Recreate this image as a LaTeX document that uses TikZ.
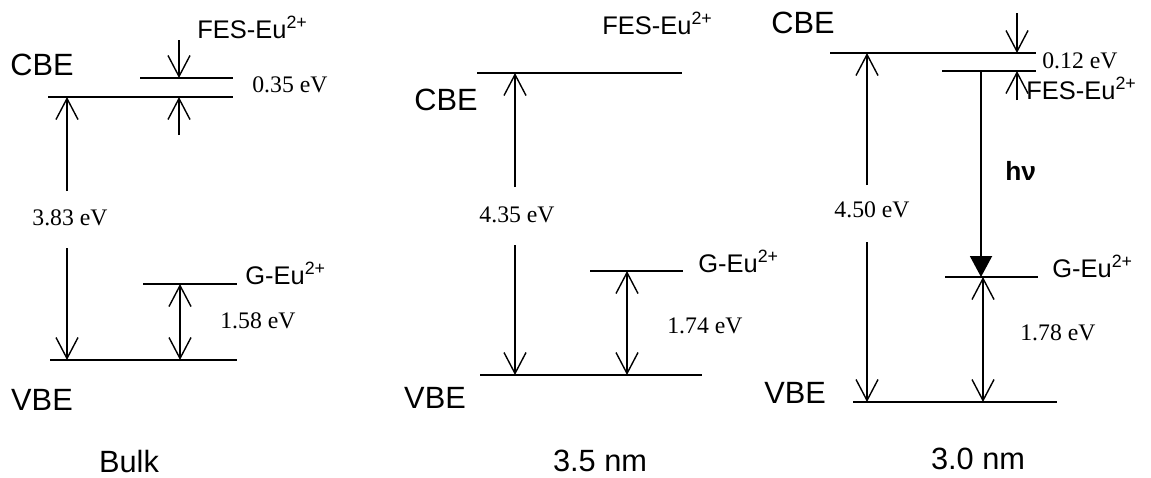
\documentclass[tikz,border=0pt]{standalone}
\usepackage{fontspec}
\setmainfont{Liberation Serif}
\setsansfont{Liberation Sans}
\usetikzlibrary{arrows.meta}

\begin{document}
\begin{tikzpicture}[x=0.02cm, y=-0.02cm,
  every node/.style={inner sep=0pt},
  >={Straight Barb[length=4.2mm, width=4.4mm]},
  level/.style={line width=1.5pt},
  gap/.style={line width=0.8pt},
  band/.style={font=\sffamily\fontsize{17.5}{19}\selectfont, anchor=base},
  state/.style={font=\sffamily\fontsize{14.5}{16}\selectfont, anchor=base west},
  ev/.style={font=\fontsize{13.5}{16}\selectfont, anchor=base west},
  size/.style={font=\sffamily\fontsize{17.5}{19}\selectfont, anchor=base},
]
\useasboundingbox (0,0) rectangle (1151,477);

% Bulk: levels
\coordinate (cbe1-l) at (48,97);   \coordinate (cbe1-r) at (233,97);
\coordinate (fes1-l) at (140,78);  \coordinate (fes1-r) at (233,78);
\coordinate (geu1-l) at (143,284); \coordinate (geu1-r) at (237,284);
\coordinate (vbe1-l) at (50,360);  \coordinate (vbe1-r) at (237,360);
\foreach \lv in {cbe1, fes1, geu1, vbe1}
  \draw[level] (\lv-l) -- (\lv-r);

\node[band] (cbe1lab) at (42,75) {CBE};
\node[band] (vbe1lab) at (42,410) {VBE};
\node[state] (fes1lab) at (197,38) {FES-Eu\textsuperscript{2+}};
\node[state] (geu1lab) at (245,284) {G-Eu\textsuperscript{2+}};
\node[ev] (off1) at (252,92) {0.35 eV};
\node[ev] (exc1) at (220,328) {1.58 eV};
\node[ev, anchor=base] (gap1) at (70,225) {3.83 eV};
\node[size] (bulk) at (129,472) {Bulk};

% Bulk: arrows
\coordinate (up1) at (67,191);  \coordinate (dn1) at (67,248);
\coordinate (s1a) at (179,40);  \coordinate (s1b) at (179,135);
\coordinate (x1) at (180,284);
\draw[gap,->] (up1) -- (up1 |- cbe1-l);
\draw[gap,->] (dn1) -- (dn1 |- vbe1-l);
\draw[gap,->] (s1a) -- (s1a |- fes1-l);
\draw[gap,->] (s1b) -- (s1b |- cbe1-l);
\draw[gap,<->] (x1) -- (x1 |- vbe1-l);

% 3.5 nm: levels
\coordinate (cbe2-l) at (477,73);  \coordinate (cbe2-r) at (682,73);
\coordinate (geu2-l) at (590,271); \coordinate (geu2-r) at (683,271);
\coordinate (vbe2-l) at (480,375); \coordinate (vbe2-r) at (702,375);
\foreach \lv in {cbe2, geu2, vbe2}
  \draw[level] (\lv-l) -- (\lv-r);

\node[state] (fes2lab) at (602,34) {FES-Eu\textsuperscript{2+}};
\node[band] (cbe2lab) at (446,110) {CBE};
\node[band] (vbe2lab) at (435,408) {VBE};
\node[state] (geu2lab) at (698,272) {G-Eu\textsuperscript{2+}};
\node[ev] (exc2) at (667,333) {1.74 eV};
\node[ev, anchor=base] (gap2) at (517,222) {4.35 eV};
\node[size] (nm35) at (600,471) {3.5 nm};

% 3.5 nm: arrows
\coordinate (up2) at (515,187); \coordinate (dn2) at (515,245);
\coordinate (x2) at (627,271);
\draw[gap,->] (up2) -- (up2 |- cbe2-l);
\draw[gap,->] (dn2) -- (dn2 |- vbe2-l);
\draw[gap,<->] (x2) -- (x2 |- vbe2-l);

% 3.0 nm: levels
\coordinate (cbe3-l) at (830,53);  \coordinate (cbe3-r) at (1036,53);
\coordinate (fes3-l) at (942,71);  \coordinate (fes3-r) at (1036,71);
\coordinate (geu3-l) at (945,277); \coordinate (geu3-r) at (1038,277);
\coordinate (vbe3-l) at (853,402); \coordinate (vbe3-r) at (1057,402);
\foreach \lv in {cbe3, fes3, geu3, vbe3}
  \draw[level] (\lv-l) -- (\lv-r);

\node[band] (cbe3lab) at (803,33) {CBE};
\node[band] (vbe3lab) at (795,403) {VBE};
\node[ev] (off3) at (1042,68) {0.12 eV};
\node[state] (fes3lab) at (1026,99) {FES-Eu\textsuperscript{2+}};
\node[state] (geu3lab) at (1052,277) {G-Eu\textsuperscript{2+}};
\node[ev] (exc3) at (1020,340) {1.78 eV};
\node[ev, anchor=base] (gap3) at (872,217) {4.50 eV};
\node[font=\sffamily\bfseries\fontsize{15}{18}\selectfont, anchor=base west]
  (hv3) at (1005,180) {hν};
\node[size] (nm30) at (978,469) {3.0 nm};

% 3.0 nm: arrows
\coordinate (up3) at (867,185);  \coordinate (dn3) at (867,242);
\coordinate (s3a) at (1017,13);  \coordinate (s3b) at (1017,100);
\coordinate (em3) at (981,71);   \coordinate (x3) at (983,277);
\draw[gap,->] (up3) -- (up3 |- cbe3-l);
\draw[gap,->] (dn3) -- (dn3 |- vbe3-l);
\draw[gap,->] (s3a) -- (s3a |- cbe3-l);
\draw[gap,->] (s3b) -- (s3b |- fes3-l);
\draw[line width=1.1pt, -{Triangle[length=4.2mm, width=4.4mm]}]
  (em3) -- (em3 |- geu3-l);
\draw[gap,<->] (x3) -- (x3 |- vbe3-l);
\end{tikzpicture}
\end{document}
